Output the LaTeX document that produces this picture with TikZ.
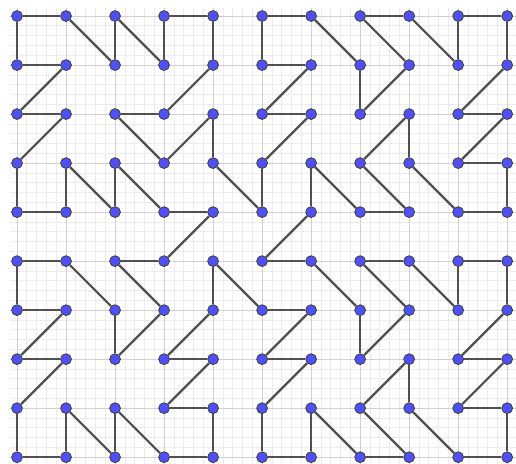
\documentclass[tikz,border=0pt]{standalone}
\usepackage{tikz}
\definecolor{dotBlue}{RGB}{80,80,250}
\definecolor{edgeGrey}{RGB}{80,80,80}
\definecolor{gridMaj}{RGB}{208,208,208}
\definecolor{gridMin}{RGB}{236,236,236}

\begin{document}
\begin{tikzpicture}[
  dot/.style={circle, fill=dotBlue, draw=black!75, line width=0.5pt,
    inner sep=0pt, minimum size=0.22cm},
  link/.style={edgeGrey, line width=1.3pt},
]
\useasboundingbox[fill=white] (-0.347,-9.122) rectangle (10.18,0.327);

% background grid
\begin{scope}
  \clip (-0.15,-9.122) rectangle (10.18,0.15);
  \draw[gridMin, line width=0.4pt, step=0.2] (-0.4,-9.4) grid (10.4,0.4);
  \draw[gridMaj, line width=0.5pt, step=1] (-1,-10) grid (11,1);
\end{scope}

% lattice points
\foreach \i in {0,...,10}
  \foreach \j in {0,...,9}
    \node[dot] (p\i-\j) at (\i,-\j) {};

% top left block
\foreach \a/\b in {0-0/1-0, 0-0/0-1, 0-1/1-1, 1-0/2-1, 2-0/2-1, 2-0/3-1,
    3-0/3-1, 3-0/4-0, 4-0/4-1, 1-1/0-2, 0-2/1-2, 4-1/3-2, 2-2/3-2, 1-2/0-3,
    2-2/3-3, 3-3/4-2, 4-2/4-3, 0-3/0-4, 0-4/1-4, 1-3/1-4, 1-3/2-4, 2-3/2-4,
    2-3/3-4, 3-4/4-4, 4-3/5-4, 4-4/3-5}
  \draw[link] (p\a) -- (p\b);

% top right block
\foreach \a/\b in {5-0/6-0, 5-0/5-1, 5-1/6-1, 6-0/7-1, 7-0/8-0, 7-0/8-1,
    8-0/9-1, 9-0/10-0, 9-0/9-1, 10-0/10-1, 6-1/5-2, 7-1/7-2, 8-1/7-2,
    10-1/9-2, 5-2/6-2, 9-2/10-2, 6-2/5-3, 8-2/7-3, 8-2/8-3, 10-2/9-3,
    9-3/10-3, 5-3/5-4, 6-3/6-4, 6-3/7-4, 7-3/8-4, 8-3/9-4, 7-4/8-4,
    10-3/10-4, 9-4/10-4, 6-4/5-5}
  \draw[link] (p\a) -- (p\b);

% bottom left block
\foreach \a/\b in {0-5/1-5, 0-5/0-6, 0-6/1-6, 1-5/2-6, 2-5/3-5, 2-5/3-6,
    4-5/4-6, 4-5/5-6, 2-6/2-7, 3-6/2-7, 1-6/0-7, 0-7/1-7, 4-6/3-7, 3-7/4-7,
    1-7/0-8, 4-7/3-8, 3-8/4-8, 0-8/0-9, 0-9/1-9, 1-8/1-9, 1-8/2-9, 2-8/2-9,
    2-8/3-9, 3-9/4-9, 4-8/4-9}
  \draw[link] (p\a) -- (p\b);

% bottom right block
\foreach \a/\b in {5-5/6-5, 6-5/7-6, 7-5/8-5, 7-5/8-6, 8-5/9-6, 9-5/10-5,
    9-5/9-6, 10-5/10-6, 5-6/6-6, 6-6/5-7, 7-6/7-7, 8-6/7-7, 10-6/9-7,
    5-7/6-7, 9-7/10-7, 6-7/5-8, 8-7/7-8, 8-7/8-8, 10-7/9-8, 9-8/10-8,
    5-8/5-9, 5-9/6-9, 6-8/6-9, 6-8/7-9, 7-8/8-9, 7-9/8-9, 8-8/9-9,
    9-9/10-9, 10-8/10-9}
  \draw[link] (p\a) -- (p\b);

\end{tikzpicture}
\end{document}
